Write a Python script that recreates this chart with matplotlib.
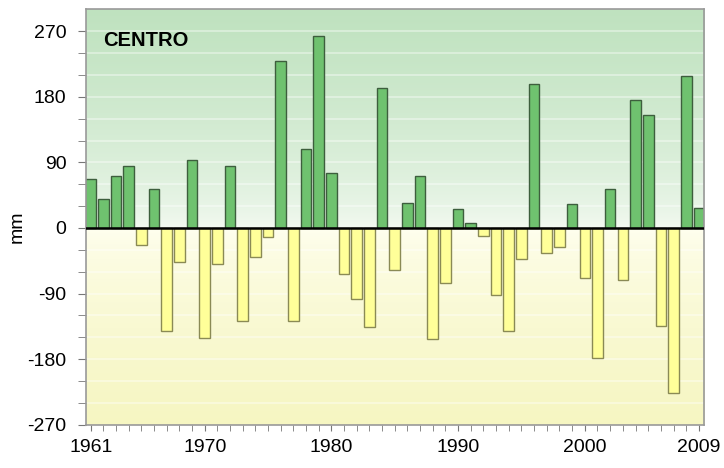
import numpy as np
import matplotlib
matplotlib.use("Agg")
import matplotlib.pyplot as plt
from matplotlib.colors import to_rgb

years = list(range(1961, 2010))
values = [67, 40, 71, 85, -24, 54, -142, -47, 93, -151,
          -49, 85, -127, -40, -12, 229, -127, 108, 264, 76,
          -63, -98, -136, 192, -57, 34, 71, -153, -75, 26,
          7, -11, -92, -142, -42, 198, -34, -26, 33, -68,
          -178, 54, -72, 176, 155, -135, -226, 209, 27]
year_labels = [1961, 1970, 1980, 1990, 2000, 2009]
y_major = [-270, -180, -90, 0, 90, 180, 270]
title = "CENTRO"

plt.rcParams['font.family'] = ['Liberation Sans', 'DejaVu Sans']
plt.rcParams['axes.unicode_minus'] = False

fig = plt.figure(figsize=(7.24, 4.68), dpi=100)
ax = fig.add_axes([0.1188, 0.0925, 0.9728 - 0.1188, 0.980 - 0.0925])

ymin, ymax = -270, 300
xmin, xmax = 1960.63, 2009.43

# background gradient
n = 600
ys = np.linspace(ymax, ymin, n)
top = np.array(to_rgb('#bfe2bf'))
zero_up = np.array(to_rgb('#f6fbf4'))
zero_dn = np.array(to_rgb('#fffff2'))
bot = np.array(to_rgb('#f6f6c2'))
img = np.zeros((n, 1, 3))
for i, yv in enumerate(ys):
    if yv >= 0:
        t = (yv / ymax) ** 0.6
        img[i, 0] = zero_up * (1 - t) + top * t
    else:
        t = (-yv / -ymin) ** 0.6
        img[i, 0] = zero_dn * (1 - t) + bot * t
ax.imshow(img, extent=[xmin, xmax, ymin, ymax], aspect='auto', zorder=0,
          interpolation='bilinear')

for g in range(-240, 300, 30):
    if g != 0:
        ax.axhline(g, color='white', alpha=0.45, lw=1.2, zorder=1)

vals = np.array(values)
colors = ['#6fc26f' if v >= 0 else '#ffff99' for v in vals]
edges = ['#3d5e3d' if v >= 0 else '#8a8a55' for v in vals]
ax.bar(years, vals, width=0.84, color=colors, edgecolor=edges, linewidth=1.0, zorder=2)
ax.axhline(0, color='black', lw=1.8, zorder=3)

ax.set_xlim(xmin, xmax)
ax.set_ylim(ymin, ymax)
ax.set_yticks(y_major)
ax.set_yticks(range(-270, 300, 30), minor=True)
ax.set_xticks(years, minor=True)
ax.set_xticks(year_labels)
ax.set_xticklabels([str(y) for y in year_labels])
ax.tick_params(axis='y', which='both', length=6, color='#777777', labelsize=14, pad=8)
ax.tick_params(axis='x', which='both', length=4.5, color='#777777', labelsize=14, pad=6)
for s in ax.spines.values():
    s.set_color('#999999')
    s.set_linewidth(1.2)
ax.set_ylabel('mm', fontsize=14)
ax.yaxis.set_label_coords(-0.098, 0.476)
ax.text(0.0275, 0.926, title, transform=ax.transAxes, fontsize=14.5,
        fontweight='bold', va='center', ha='left', zorder=5)

fig.savefig('out.png', dpi=100)
